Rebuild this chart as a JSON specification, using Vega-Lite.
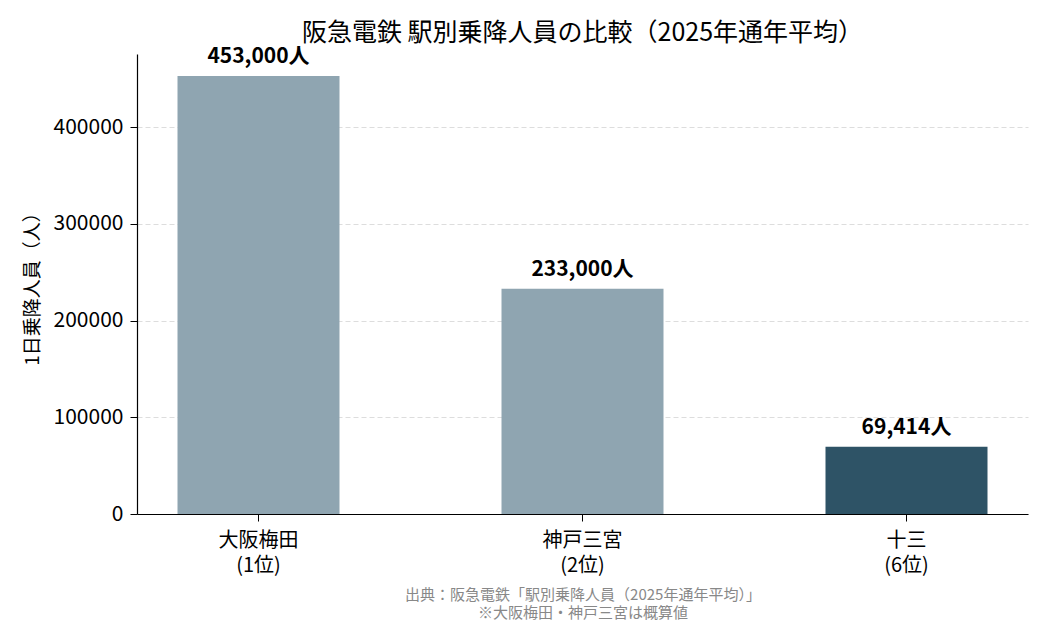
{
  "$schema": "https://vega.github.io/schema/vega-lite/v6.json",
  "width": 1050,
  "height": 630,
  "autosize": {"type": "fit", "contains": "padding"},
  "padding": {"left": 23, "right": 22, "top": 29, "bottom": 10},
  "background": "white",
  "config": {
    "font": "Noto Sans CJK JP",
    "view": {"stroke": null}
  },
  "title": {
    "text": "阪急電鉄 駅別乗降人員の比較（2025年通年平均）",
    "fontSize": 25,
    "fontWeight": "normal",
    "color": "#000000",
    "anchor": "middle",
    "frame": "group",
    "offset": 0
  },
  "data": {
    "values": [
      {"station": "大阪梅田\n(1位)", "riders": 453000, "label": "453,000人", "group": "概算"},
      {"station": "神戸三宮\n(2位)", "riders": 233000, "label": "233,000人", "group": "概算"},
      {"station": "十三\n(6位)", "riders": 69414, "label": "69,414人", "group": "実数"}
    ]
  },
  "encoding": {
    "x": {
      "field": "station",
      "type": "nominal",
      "sort": null,
      "scale": {"paddingInner": 0.5, "paddingOuter": 0.125},
      "axis": {
        "labelAngle": 0,
        "labelExpr": "split(datum.label, '\\n')",
        "labelFontSize": 20,
        "labelColor": "#000000",
        "labelLineHeight": 25,
        "labelPadding": 9,
        "tickColor": "#000000",
        "tickSize": 7,
        "domainColor": "#000000",
        "domainWidth": 1.2,
        "title": ["出典：阪急電鉄「駅別乗降人員（2025年通年平均）」", "※大阪梅田・神戸三宮は概算値"],
        "titleFontSize": 15,
        "titleFontWeight": "normal",
        "titleColor": "#888888",
        "titleLineHeight": 18,
        "titlePadding": 12
      }
    },
    "y": {
      "field": "riders",
      "type": "quantitative",
      "scale": {"domain": [0, 475650], "nice": false},
      "axis": {
        "values": [0, 100000, 200000, 300000, 400000],
        "format": "d",
        "labelFontSize": 21,
        "labelColor": "#000000",
        "labelPadding": 7,
        "tickColor": "#000000",
        "tickSize": 7,
        "domainColor": "#000000",
        "domainWidth": 1.2,
        "grid": true,
        "gridColor": "#dddddd",
        "gridDash": [5, 3],
        "gridWidth": 1,
        "title": "1日乗降人員（人）",
        "titleFontSize": 19,
        "titleFontWeight": "normal",
        "titleColor": "#000000",
        "titlePadding": 11
      }
    }
  },
  "layer": [
    {
      "mark": {"type": "bar"},
      "encoding": {
        "color": {
          "field": "group",
          "type": "nominal",
          "scale": {"domain": ["概算", "実数"], "range": ["#8fa5b1", "#2e5366"]},
          "legend": null
        }
      }
    },
    {
      "mark": {"type": "text", "dy": -9, "baseline": "bottom", "fontSize": 21, "fontWeight": "bold", "color": "#000000"},
      "encoding": {
        "text": {"field": "label", "type": "nominal"}
      }
    }
  ]
}
